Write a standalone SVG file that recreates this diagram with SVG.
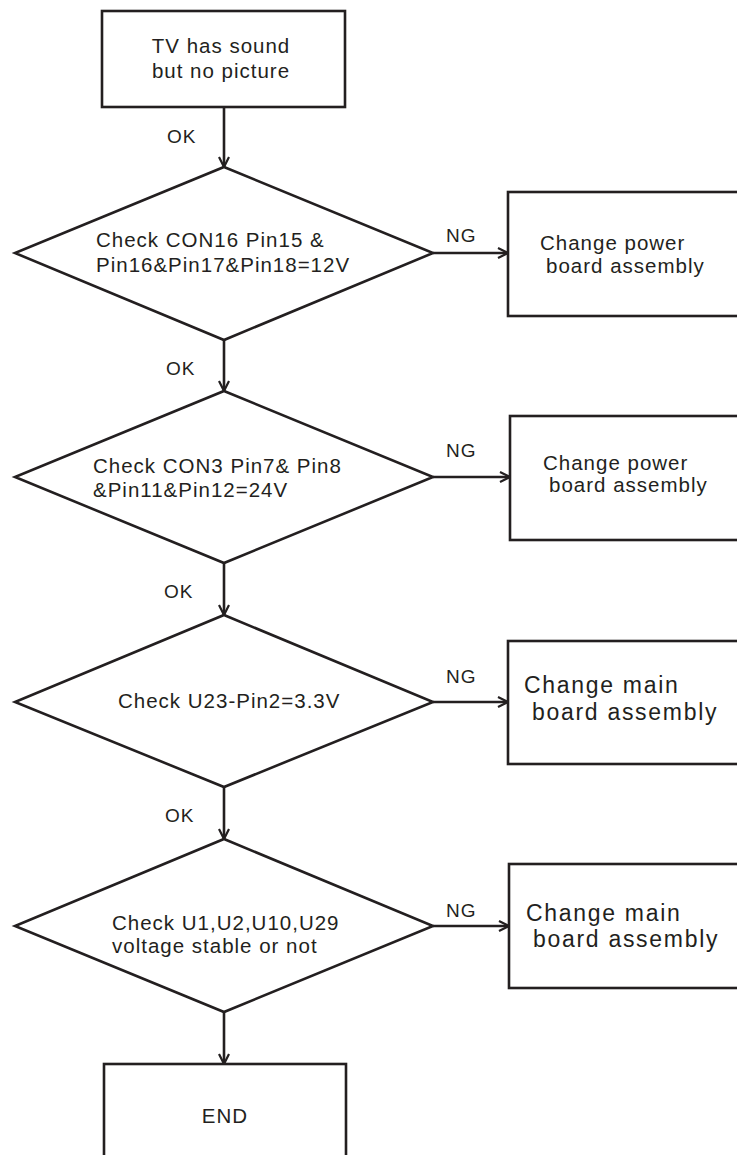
<svg xmlns="http://www.w3.org/2000/svg" width="737" height="1155" viewBox="0 0 737 1155">
<style>
.s{fill:#fff;stroke:#231f20;stroke-width:2.6}
.c{fill:none;stroke:#231f20;stroke-width:2.6}
text{font-family:"Liberation Sans",Arial,sans-serif;fill:#231f20}
.t{font-size:20.5px;letter-spacing:1px}
.m{font-size:23px;letter-spacing:1.7px}
.l{font-size:19px;letter-spacing:1px}
</style>
<defs>
<marker id="a" viewBox="0 0 12 12" refX="11" refY="6" markerWidth="12" markerHeight="12" markerUnits="userSpaceOnUse" orient="auto">
<path d="M1,1 L11,6 L1,11" fill="none" stroke="#231f20" stroke-width="2.2"/>
</marker>
</defs>
<g id="connectors">
<line class="c" x1="224" y1="107" x2="224" y2="167" marker-end="url(#a)"/>
<line class="c" x1="224" y1="340" x2="224" y2="391" marker-end="url(#a)"/>
<line class="c" x1="224" y1="563" x2="224" y2="615" marker-end="url(#a)"/>
<line class="c" x1="224" y1="787" x2="224" y2="839" marker-end="url(#a)"/>
<line class="c" x1="224" y1="1012" x2="224" y2="1064" marker-end="url(#a)"/>
<line class="c" x1="433" y1="253" x2="508" y2="253" marker-end="url(#a)"/>
<line class="c" x1="433" y1="477" x2="510" y2="477" marker-end="url(#a)"/>
<line class="c" x1="433" y1="702" x2="508" y2="702" marker-end="url(#a)"/>
<line class="c" x1="433" y1="926" x2="509" y2="926" marker-end="url(#a)"/>
<text class="l" x="167" y="143">OK</text>
<text class="l" x="166" y="375">OK</text>
<text class="l" x="164" y="598">OK</text>
<text class="l" x="165" y="822">OK</text>
<text class="l" x="446" y="242">NG</text>
<text class="l" x="446" y="457">NG</text>
<text class="l" x="446" y="683">NG</text>
<text class="l" x="446" y="917">NG</text>
</g>
<g id="start">
<rect class="s" x="102" y="11" width="243" height="96"/>
<text class="t" x="221" y="53" text-anchor="middle">TV has sound</text>
<text class="t" x="221" y="78" text-anchor="middle">but no picture</text>
</g>
<g id="d1">
<polygon class="s" points="224,167 433,253 224,340 15,253"/>
<text class="t" x="96" y="247">Check CON16 Pin15 &amp;</text>
<text class="t" x="96" y="272">Pin16&amp;Pin17&amp;Pin18=12V</text>
</g>
<g id="b1">
<rect class="s" x="508" y="192" width="240" height="124"/>
<text class="t" x="540" y="250">Change power</text>
<text class="t" x="546" y="273">board assembly</text>
</g>
<g id="d2">
<polygon class="s" points="224,391 433,477 224,563 15,477"/>
<text class="t" x="93" y="473">Check CON3 Pin7&amp; Pin8</text>
<text class="t" x="93" y="497">&amp;Pin11&amp;Pin12=24V</text>
</g>
<g id="b2">
<rect class="s" x="510" y="416" width="240" height="124"/>
<text class="t" x="543" y="470">Change power</text>
<text class="t" x="549" y="492">board assembly</text>
</g>
<g id="d3">
<polygon class="s" points="224,615 433,702 224,787 15,702"/>
<text class="t" x="118" y="708">Check U23-Pin2=3.3V</text>
</g>
<g id="b3">
<rect class="s" x="508" y="641" width="240" height="123"/>
<text class="m" x="524" y="693">Change main</text>
<text class="m" x="532" y="720">board assembly</text>
</g>
<g id="d4">
<polygon class="s" points="224,839 433,926 224,1012 15,926"/>
<text class="t" x="112" y="930">Check U1,U2,U10,U29</text>
<text class="t" x="112" y="953">voltage stable or not</text>
</g>
<g id="b4">
<rect class="s" x="509" y="864" width="240" height="124"/>
<text class="m" x="526" y="921">Change main</text>
<text class="m" x="533" y="947">board assembly</text>
</g>
<g id="end">
<rect class="s" x="104" y="1064" width="242" height="110"/>
<text class="t" x="225" y="1123" text-anchor="middle">END</text>
</g>
</svg>
